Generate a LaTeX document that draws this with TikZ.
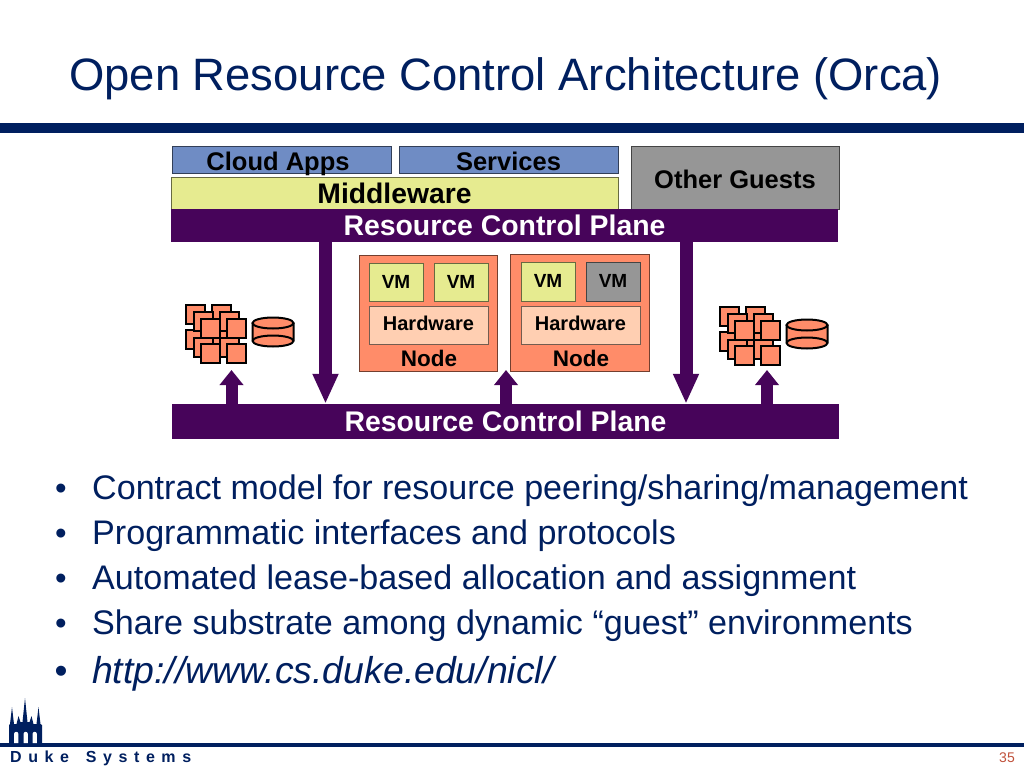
\documentclass[tikz,border=0pt]{standalone}
\usepackage{fontspec}
\usepackage{tikz}
\usetikzlibrary{arrows.meta}
\setmainfont{Liberation Sans}
\newfontfamily\dukefont[LetterSpace=41]{Liberation Sans}
\definecolor{dukenavy}{HTML}{001F5F}
\definecolor{planepurple}{HTML}{47045A}
\definecolor{appblue}{HTML}{6F8CC4}
\definecolor{mwyellow}{HTML}{E6EB90}
\definecolor{guestgray}{HTML}{969696}
\definecolor{nodeorange}{HTML}{FF8C69}
\definecolor{hwpeach}{HTML}{FFCFB2}
\definecolor{pagered}{HTML}{C0503A}
\tikzset{
  sized/.style={font=\fontsize{#1}{#1}\bfseries, text height={0.72*#1*1pt}, text depth=0pt},
  box/.style={draw=#1!45!black, fill=#1, line width=1pt, inner sep=0pt, text=black},
  plane/.style={fill=planepurple, inner sep=0pt, sized=28.4, text=white},
  vmbox/.style={box=#1, minimum width=54pt, minimum height=38.5pt, sized=19, text depth=2pt},
  hwbox/.style={box=hwpeach, minimum width=119pt, minimum height=38pt, sized=20, text depth=3pt},
  nodebox/.style={box=nodeorange, minimum width=138.5pt, minimum height=116.5pt},
  brick/.style={draw=black, fill=nodeorange, line width=2pt, inner sep=0pt, minimum size=19pt},
  bigarrow/.style={draw=planepurple, line width=13pt, -{Triangle[length=30pt,width=24pt,fill=planepurple]}},
  smallarrow/.style={draw=planepurple, line width=12pt, -{Triangle[length=15pt,width=23pt,fill=planepurple]}},
  bullettext/.style={anchor=base west, inner sep=0pt, text=dukenavy, font=\fontsize{34.1}{34.1}\selectfont},
  bulletdot/.style={anchor=base, inner sep=0pt, text=dukenavy, font=\fontsize{33}{33}\selectfont},
}
\begin{document}
\begin{tikzpicture}[x=1pt, y=-1pt]
  \useasboundingbox (0,0) rectangle (1024,768);

  % title
  \node[anchor=base west, inner sep=0pt, text=dukenavy, font=\fontsize{45.4}{45.4}\selectfont] (title) at (69,90.5) {Open Resource Control Architecture (Orca)};
  \fill[dukenavy] (0,123) rectangle (1024,133);

  % guests
  \node[box=appblue, minimum width=219.5pt, minimum height=27pt, sized=25.5, text height=21.4pt] (apps) at (281.8,159.5) {Cloud Apps\kern7.6pt};
  \node[box=appblue, minimum width=219pt, minimum height=27pt, sized=25.5, text height=21.4pt] (services) at (508.5,159.5) {Services};
  \node[box=mwyellow, minimum width=447pt, minimum height=32pt, sized=28.3] (middleware) at (394.5,193) {Middleware};
  \node[box=guestgray, minimum width=208pt, minimum height=63pt, sized=25.5, text height=21.4pt] (guests) at (735,177.5) {Other Guests};

  % planes
  \node[plane, minimum width=667pt, minimum height=33pt] (planetop) at (504.5,225.5) {Resource Control Plane};
  \node[plane, minimum width=667pt, minimum height=35pt] (planebot) at (505.5,421.5) {Resource Control Plane};

  % first node
  \node[nodebox] (node1) at (428.5,313.5) {};
  \node[vmbox=mwyellow] (vm1) at (396,282.5) {VM};
  \node[vmbox=mwyellow] (vm2) at (461,282.5) {VM};
  \node[hwbox] (hw1) at (428.5,325) {Hardware};
  \node[sized=22.5, inner sep=0pt] (label1) at (429,358.5) {Node};

  % second node
  \node[nodebox] (node2) at (580,313) {};
  \node[vmbox=mwyellow] (vm3) at (548,282) {VM};
  \node[vmbox=guestgray] (vm4) at (613,282) {VM};
  \node[hwbox] (hw2) at (580.5,325) {Hardware};
  \node[sized=22.5, inner sep=0pt] (label2) at (581,358.5) {Node};

  % arrows
  \coordinate (d1) at (325.5,300);
  \coordinate (d2) at (686,300);
  \coordinate (u1) at (231.5,370);
  \coordinate (u2) at (506,370);
  \coordinate (u3) at (767,370);
  \draw[bigarrow] (d1 |- planetop.south) -- (d1 |- planebot.north);
  \draw[bigarrow] (d2 |- planetop.south) -- (d2 |- planebot.north);
  \draw[smallarrow] (u1 |- planebot.north) -- (u1);
  \draw[smallarrow] (u2 |- planebot.north) -- (u2);
  \draw[smallarrow] (u3 |- planebot.north) -- (u3);

  % server piles and disks
  \foreach \ox/\oy/\side in {0/0/l, 534/2/r} {
    \begin{scope}[shift={(\ox,\oy)}]
      \foreach \lx/\ly/\lay in {0/0/a, 8/7.5/b, 15/14/c} {
        \foreach \col in {0,1} {
          \foreach \row in {0,1} {
            \node[brick] (b\side\lay\col\row) at ({195+\lx+26.5*\col},{314+\ly+25.5*\row}) {};
          }
        }
      }
      \fill[nodeorange] (252.5,323) -- (252.5,341) arc[start angle=180, end angle=360, x radius=20.5pt, y radius=5.5pt] -- (293.5,323) -- cycle;
      \draw[line width=2pt] (252.5,323) -- (252.5,341) arc[start angle=180, end angle=360, x radius=20.5pt, y radius=5.5pt] -- (293.5,323);
      \draw[line width=2pt, fill=nodeorange] (273,323) ellipse[x radius=20.5pt, y radius=5.5pt];
      \draw[line width=2pt] (252.5,341) arc[start angle=180, end angle=0, x radius=20.5pt, y radius=5.5pt];
    \end{scope}
  }

  % bullets
  \foreach \yy/\txt in {
    499/{Contract model for resource peering/sharing/management},
    544/{Programmatic interfaces and protocols},
    589/{Automated lease-based allocation and assignment},
    634/{Share substrate among dynamic “guest” environments}} {
    \node[bulletdot] at (61,\yy) {•};
    \node[bullettext] at (92,\yy) {\txt};
  }
  \node[bulletdot, font=\fontsize{37}{37}\selectfont] (dot5) at (61,683) {•};
  \node[bullettext, font=\fontsize{37.4}{37.4}\itshape] (link) at (92,683) {http://www.cs.duke.edu/nicl/};

  % footer
  \fill[dukenavy] (0,743) rectangle (1024,747);
  \fill[dukenavy] (9,743) -- (9,725) -- (10,724) -- (12,707) -- (14,724) -- (16.5,724) -- (18.5,716) -- (20.5,722) -- (22.5,722) -- (25,698) -- (27.5,722) -- (29.5,722) -- (31.5,716) -- (33.5,724) -- (36.5,724) -- (38.5,707) -- (40.5,724) -- (42,725) -- (42,743) -- cycle;
  \foreach \wx in {14,23.5,32.5} {
    \fill[white] (\wx,743) -- (\wx,734) arc[start angle=180, end angle=0, radius=2.2pt] -- ({\wx+4.4},743) -- cycle;
  }
  \node[anchor=base west, inner sep=0pt, text=dukenavy, font=\fontsize{16}{16}\dukefont\bfseries] (duke) at (10,762) {Duke\kern6pt\ Systems};
  \node[anchor=base east, inner sep=0pt, text=pagered, font=\fontsize{14}{14}\selectfont] (pagenum) at (1015,762) {35};
\end{tikzpicture}
\end{document}
